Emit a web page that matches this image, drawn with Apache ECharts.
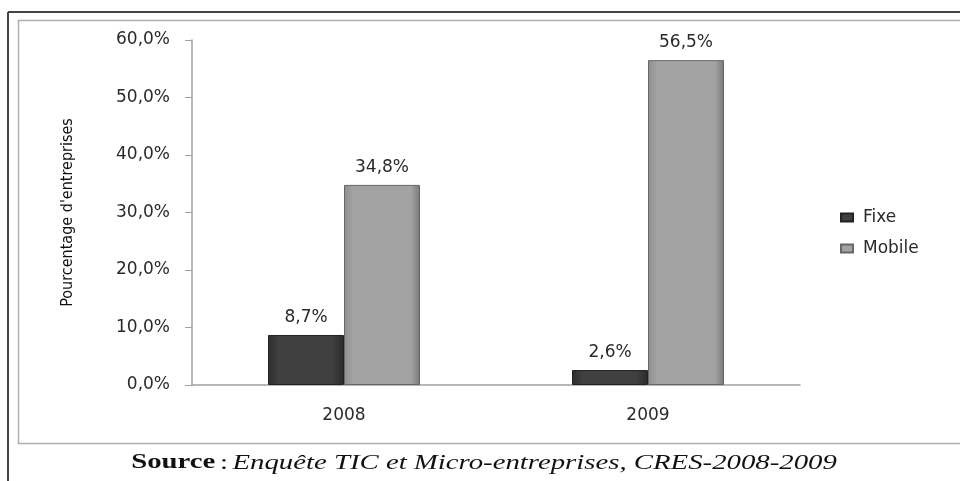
<!DOCTYPE html>
<html>
<head>
<meta charset="utf-8">
<script src="https://cdn.jsdelivr.net/npm/echarts@6/dist/echarts.min.js"></script>
<style>html,body{margin:0;padding:0;background:#fff;}#c{width:960px;height:481px;}</style>
</head>
<body>
<div id="c"></div>
<script>
var categories = ['2008', '2009'];
var fixeValues = [8.7, 2.6];
var mobileValues = [34.8, 56.5];
var yTicks = [0, 10, 20, 30, 40, 50, 60];
var seriesNames = ['Fixe', 'Mobile'];

function fmt(v, d) { return v.toFixed(d).replace('.', ',') + '%'; }

var chart = echarts.init(document.getElementById('c'));
var darkFill = new echarts.graphic.LinearGradient(0, 0, 1, 0, [
  {offset: 0, color: '#2e2e2e'}, {offset: 0.15, color: '#404040'},
  {offset: 0.85, color: '#404040'}, {offset: 1, color: '#2a2a2a'}]);
var lightFill = new echarts.graphic.LinearGradient(0, 0, 1, 0, [
  {offset: 0, color: '#8e8e8e'}, {offset: 0.12, color: '#a3a3a3'},
  {offset: 0.88, color: '#a3a3a3'}, {offset: 1, color: '#7a7a7a'}]);
var txt = {fontFamily: 'DejaVu Sans', fontSize: 17, color: '#2a2a2a'};

chart.setOption({
  animation: false,
  backgroundColor: '#fff',
  grid: {left: 192, right: 160, top: 40, bottom: 96},
  legend: {
    orient: 'vertical', left: 835, top: 204, itemWidth: 12, itemHeight: 8, itemGap: 14,
    icon: 'rect',
    data: seriesNames,
    textStyle: {fontFamily: 'DejaVu Sans', fontSize: 17, color: '#2a2a2a', padding: [0, 0, 0, 5]}
  },
  graphic: [
    {type: 'line', shape: {x1: 8, y1: 12, x2: 960, y2: 12}, style: {stroke: '#444', lineWidth: 2}},
    {type: 'line', shape: {x1: 8, y1: 12, x2: 8, y2: 481}, style: {stroke: '#444', lineWidth: 2}},
    {type: 'rect', shape: {x: 18.5, y: 20.5, width: 960, height: 423}, style: {fill: 'none', stroke: '#b0b0b0', lineWidth: 1.5}},
    {type: 'text', x: 484, y: 463, scaleX: 1.37, style: {
      align: 'center', verticalAlign: 'middle',
      rich: {b: {fontFamily: 'Liberation Serif', fontWeight: 'bold', fontSize: 21, fill: '#111'},
             n: {fontFamily: 'Liberation Serif', fontSize: 21, fill: '#111'},
             i: {fontFamily: 'Liberation Serif', fontStyle: 'italic', fontSize: 21, fill: '#111'}},
      text: '{b|Source} {n|:} {i|Enquête TIC et Micro-entreprises, CRES-2008-2009}'}}
  ],
  xAxis: {
    type: 'category', data: categories,
    axisLine: {lineStyle: {color: '#a0a0a0', width: 1.5}},
    axisTick: {show: false},
    axisLabel: Object.assign({margin: 22}, txt)
  },
  yAxis: {
    type: 'value', min: yTicks[0], max: yTicks[yTicks.length - 1], interval: 10,
    name: "Pourcentage d'entreprises", nameLocation: 'middle', nameGap: 116, nameRotate: 90,
    nameTextStyle: {fontFamily: 'DejaVu Sans Condensed', fontSize: 16, color: '#111'},
    axisLine: {show: true, lineStyle: {color: '#a0a0a0', width: 1.5}},
    axisTick: {show: true, length: 7, inside: false, lineStyle: {color: '#a0a0a0'}},
    splitLine: {show: false},
    axisLabel: Object.assign({margin: 22, formatter: function (v) { return fmt(v, 1); }}, txt)
  },
  series: [
    {name: seriesNames[0], type: 'bar', data: fixeValues, barWidth: 76, barGap: '0%',
     itemStyle: {color: darkFill, borderColor: '#222', borderWidth: 1},
     label: Object.assign({show: true, position: 'top', distance: 9,
       formatter: function (p) { return fmt(p.value, 1); }}, txt)},
    {name: seriesNames[1], type: 'bar', data: mobileValues, barWidth: 76,
     itemStyle: {color: lightFill, borderColor: '#666', borderWidth: 1},
     label: Object.assign({show: true, position: 'top', distance: 9,
       formatter: function (p) { return fmt(p.value, 1); }}, txt)}
  ]
});
</script>
</body>
</html>
